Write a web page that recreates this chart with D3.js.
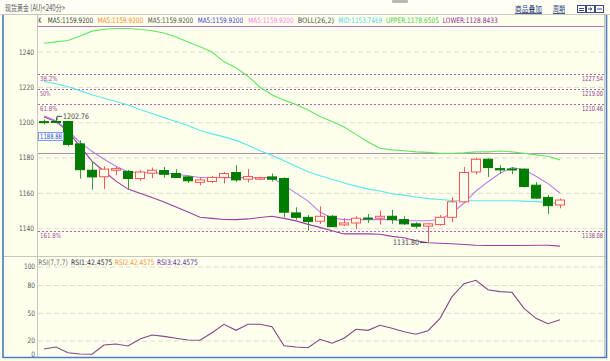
<!DOCTYPE html>
<html>
<head>
<meta charset="utf-8">
<script src="https://cdn.jsdelivr.net/npm/d3@7"></script>
<style>
  body { margin: 0; background: #fff; }
  svg text { font-family: "DejaVu Sans", "Liberation Sans", sans-serif; }
</style>
</head>
<body>
<svg id="chart"></svg>
<script>
// candle values (one per 240-min bar)
const openPx  = [1200.3,1200.4,1200.4,1187.7,1172.8,1169.1,1172.8,1172.1,1168.1,1171.1,1172.6,1170.9,1169.0,1165.9,1166.4,1168.7,1171.5,1167.7,1167.7,1169.0,1168.1,1148.6,1146.1,1143.9,1146.7,1141.8,1142.9,1145.7,1145.6,1146.7,1144.8,1142.4,1141.1,1142.0,1146.1,1154.9,1171.8,1179.0,1173.7,1173.5,1173.4,1164.3,1157.4,1153.1];
const highPx  = [1201.5,1202.76,1200.8,1189.7,1177.9,1175.0,1174.8,1173.0,1172.8,1174.3,1174.6,1173.4,1170.0,1168.6,1169.4,1171.8,1175.6,1173.4,1169.1,1170.9,1168.8,1151.8,1147.4,1152.3,1147.4,1145.6,1146.7,1148.0,1149.9,1150.3,1146.7,1143.3,1142.9,1147.4,1157.4,1174.6,1179.9,1179.5,1175.6,1174.6,1173.9,1166.2,1158.7,1156.8];
const lowPx   = [1198.8,1199.5,1186.3,1168.0,1161.8,1162.1,1170.0,1162.1,1166.8,1168.3,1168.5,1168.5,1165.5,1164.3,1165.5,1165.3,1166.2,1165.9,1167.2,1166.4,1146.1,1144.8,1138.6,1142.4,1140.7,1141.2,1139.5,1142.9,1142.0,1142.4,1141.8,1139.9,1131.8,1141.4,1143.3,1154.2,1170.5,1169.0,1170.9,1170.5,1163.0,1156.5,1148.0,1151.2];
const closePx = [1200.0,1200.1,1187.4,1173.1,1169.0,1173.4,1173.7,1168.1,1171.8,1172.8,1170.5,1168.7,1166.8,1167.3,1168.7,1170.9,1167.3,1169.2,1168.5,1167.7,1149.0,1146.1,1143.7,1146.7,1140.8,1142.9,1145.6,1145.5,1146.7,1144.8,1142.4,1141.1,1142.4,1146.1,1154.9,1171.5,1179.0,1174.3,1173.0,1173.3,1163.6,1157.0,1152.7,1155.9];

const ma5       = [1203.6,1200.8,1195.3,1188.6,1183.5,1179.0,1175.0,1171.9,1171.4,1171.4,1171.1,1170.5,1169.7,1168.7,1168.7,1168.6,1168.6,1168.6,1168.6,1168.6,1164.1,1159.8,1155.3,1149.1,1145.7,1144.8,1144.8,1144.8,1144.8,1144.8,1144.2,1144.2,1144.2,1144.9,1148.6,1154.2,1161.0,1166.3,1171.1,1174.3,1173.1,1169.4,1165.2,1159.92];
const bollUpper = [1244.7,1245.5,1246.3,1248.8,1251.6,1252.7,1253.1,1253.1,1252.7,1251.8,1250.5,1248.3,1245.5,1242.8,1239.8,1234.2,1230.8,1226.0,1219.8,1215.6,1212.5,1210.0,1206.9,1203.2,1200.4,1197.3,1193.1,1188.8,1185.2,1184.3,1183.8,1183.2,1182.9,1182.4,1182.4,1182.6,1183.2,1183.2,1183.7,1183.2,1182.4,1181.5,1180.7,1178.65];
const bollMid   = [1223.1,1221.8,1220.1,1217.9,1215.6,1213.6,1211.7,1209.7,1207.2,1204.9,1202.6,1200.4,1198.1,1195.3,1193.4,1191.7,1189.7,1186.9,1183.8,1181.2,1178.1,1175.0,1171.9,1169.7,1167.7,1165.5,1163.8,1162.1,1161.0,1159.5,1158.7,1157.6,1156.7,1156.2,1155.6,1155.5,1155.5,1155.5,1155.5,1155.5,1155.3,1155.0,1154.6,1153.75];
const bollLower = [1203.0,1200.4,1194.8,1186.3,1177.9,1172.2,1166.6,1162.1,1159.8,1157.3,1154.8,1151.9,1149.1,1146.1,1145.5,1144.9,1144.8,1145.2,1146.0,1146.7,1145.5,1144.1,1142.1,1140.4,1138.5,1136.7,1136.7,1136.7,1136.5,1135.3,1134.5,1132.8,1131.7,1131.4,1131.1,1130.7,1130.3,1130.1,1130.1,1130.1,1130.1,1130.3,1130.3,1129.8];
const rsi1      = [10.8,13.0,6.8,5.4,5.1,15.1,16.2,14.1,21.6,25.9,24.5,22.4,20.5,20.2,28.4,37.5,31.0,37.5,37.5,34.9,14.4,13.0,12.2,21.3,17.0,22.4,32.1,31.0,36.4,33.2,29.5,26.7,30.6,44.0,67.4,81.4,85.1,74.9,72.8,72.1,54.8,44.0,38.2,42.46];

const priceTicks = [1140, 1160, 1180, 1200, 1220, 1240];
const rsiTicks = [0, 20, 50, 80, 100];
const rsiGrid = [20, 50, 80, 100];
const fibLevels = [1227.54, 1219.00, 1210.46, 1138.08];
const fibNames = ["38.2%", "50%", "61.8%", "161.8%"];
const fibBase = 1182.81;

const legendItems = [
  ["K", 38.3, 3.2, "#303030"],
  ["MA5:1159.9200", 47.7, 45.5, "#404040"],
  ["MA5:1159.9200", 97.7, 45.5, "#ff8a1c"],
  ["MA5:1159.9200", 147.7, 45.5, "#505050"],
  ["MA5:1159.9200", 197.7, 45.5, "#3c3cdc"],
  ["MA5:1159.9200", 248.3, 45.5, "#ff7fe6"],
  ["BOLL(26,2)", 297.7, 36.5, "#505050"],
  ["MID:1153.7469", 338.3, 44, "#4fd6e6"],
  ["UPPER:1178.6505", 386, 53, "#4ccc4c"],
  ["LOWER:1128.8433", 442.7, 55, "#8e2c9e"]
];
const rsiLegend = [
  ["RSI(7,7,7)", 38.3, 29.5, "#707070"],
  ["RSI1:42.4575", 71, 41.5, "#303048"],
  ["RSI2:42.4575", 115, 39.5, "#ff9040"],
  ["RSI3:42.4575", 157, 41, "#6030a0"]
];

const W = 610, H = 361;
const left = 38, right = 604;
const svg = d3.select("#chart").attr("width", W).attr("height", H);

const x = d3.scaleBand()
  .domain(d3.range(openPx.length))
  .range([38, 566])
  .paddingInner(0.15)
  .paddingOuter(0.075);
const cx = i => x(i) + x.bandwidth() / 2;

const y = d3.scaleLinear().domain([1140, 1240]).range([228.1, 51.6]);
const yr = d3.scaleLinear().domain([0, 100]).range([359, 266.5]);

// squeeze text horizontally into the width it has in the screenshot
function squeeze(sel, w) {
  sel.each(function () {
    const w0 = this.getComputedTextLength();
    const s = w0 > 0 ? w / w0 : 1;
    const tx = +this.getAttribute("x") || 0;
    const ty = +this.getAttribute("y") || 0;
    this.setAttribute("x", 0);
    this.setAttribute("y", 0);
    this.setAttribute("transform", `translate(${tx},${ty}) scale(${s},1)`);
  });
}

// window chrome
svg.append("rect").attr("width", W).attr("height", H).attr("fill", "#ffffee");
svg.append("rect").attr("width", W).attr("height", 14.5).attr("fill", "#fefef5");
svg.append("line").attr("x1", 0).attr("x2", W).attr("y1", 14.5).attr("y2", 14.5).attr("stroke", "#c9c9bb");
svg.append("rect").attr("x", 392).attr("y", 0).attr("width", 16).attr("height", 3).attr("rx", 1).attr("fill", "#b8b8b0");

svg.append("text").attr("x", 5).attr("y", 11)
  .style("font-family", "'Noto Sans CJK SC', sans-serif")
  .attr("font-size", 8.5).attr("fill", "#555")
  .text("现货黄金 (AU)<240分>")
  .call(squeeze, 60);

svg.append("text").attr("x", 515).attr("y", 12)
  .style("font-family", "'Noto Sans CJK SC', sans-serif")
  .attr("font-size", 8.5).attr("fill", "#2a3a7a")
  .attr("text-decoration", "underline")
  .text("商品叠加").call(squeeze, 27);
svg.append("text").attr("x", 553).attr("y", 12)
  .style("font-family", "'Noto Sans CJK SC', sans-serif")
  .attr("font-size", 8.5).attr("fill", "#2a3a7a")
  .attr("text-decoration", "underline")
  .text("周期").call(squeeze, 12);

const btn = svg.append("g").attr("fill", "none").attr("stroke", "#3a4a8a");
[577, 586, 595].forEach((bx, k) => {
  btn.append("rect").attr("x", bx + 0.5).attr("y", 5.5).attr("width", 8).attr("height", 7);
  if (k === 0) btn.append("path").attr("d", `M${bx + 2},8.5h5M${bx + 2},10.5h5`);
  if (k === 1) btn.append("path").attr("d", `M${bx + 2},9h4M${bx + 4},7.5l2,1.5l-2,1.5`);
  if (k === 2) btn.append("path").attr("d", `M${bx + 2},9h5`);
});

// panel borders
svg.append("line").attr("x1", left - 0.5).attr("x2", left - 0.5).attr("y1", 15).attr("y2", 357).attr("stroke", "#c8c8b8");
svg.append("line").attr("x1", right + 0.5).attr("x2", right + 0.5).attr("y1", 15).attr("y2", 357).attr("stroke", "#c8c8b8");
svg.append("line").attr("x1", left - 0.5).attr("x2", right).attr("y1", 26.5).attr("y2", 26.5).attr("stroke", "#b77bb7");
svg.append("line").attr("x1", 3).attr("x2", 606).attr("y1", 256.5).attr("y2", 256.5).attr("stroke", "#c8c8b8");

// price grid and axis
const grid = svg.append("g").attr("transform", `translate(${left},0)`)
  .call(d3.axisRight(y).tickValues(priceTicks).tickSize(right - left).tickFormat(""));
grid.select(".domain").remove();
grid.selectAll("line").attr("stroke", "#dcdccb").attr("stroke-dasharray", "5,3");

const yAxis = svg.append("g").attr("transform", "translate(34,0)")
  .call(d3.axisLeft(y).tickValues(priceTicks).tickSize(0).tickPadding(0).tickFormat(d3.format("d")));
yAxis.select(".domain").remove();
yAxis.selectAll("text").attr("font-size", 7.5).attr("fill", "#555").call(squeeze, 15);

// fibonacci levels
const fib = svg.append("g");
fib.selectAll("line.fib").data(fibLevels).join("line")
  .attr("class", "fib")
  .attr("x1", left).attr("x2", right)
  .attr("y1", d => Math.round(y(d)) + 0.5).attr("y2", d => Math.round(y(d)) + 0.5)
  .attr("stroke", "#b45cb4").attr("stroke-dasharray", "2,2");
fib.append("line")
  .attr("x1", left).attr("x2", right)
  .attr("y1", Math.round(y(fibBase)) + 0.5).attr("y2", Math.round(y(fibBase)) + 0.5)
  .attr("stroke", "#b88aae");
fib.selectAll("text.fname").data(fibLevels).join("text")
  .attr("class", "fname")
  .attr("x", 40).attr("y", d => y(d) + 7)
  .attr("font-size", 7).attr("fill", "#a04aa0")
  .text((d, i) => fibNames[i])
  .each(function (d, i) { d3.select(this).call(squeeze, fibNames[i].length * 3.5); });
fib.selectAll("text.fval").data(fibLevels).join("text")
  .attr("class", "fval")
  .attr("x", 603).attr("y", d => y(d) + 7)
  .attr("text-anchor", "end")
  .attr("font-size", 7).attr("fill", "#8a3a8a")
  .text(d => d.toFixed(2))
  .call(squeeze, 21);

// legend
svg.selectAll("text.leg").data(legendItems).join("text")
  .attr("class", "leg")
  .attr("x", d => d[1]).attr("y", 23)
  .attr("font-size", 7.5).attr("fill", d => d[3])
  .text(d => d[0])
  .each(function (d) { d3.select(this).call(squeeze, d[2]); });

// main plot
const plot = svg.append("g");
svg.append("clipPath").attr("id", "mainClip")
  .append("rect").attr("x", left).attr("y", 27).attr("width", right - left).attr("height", 229);
plot.attr("clip-path", "url(#mainClip)");

const line = d3.line().x((d, i) => cx(i)).y(d => y(d));
[[bollUpper, "#5ee85e"], [bollMid, "#5ae6ee"], [bollLower, "#9b3fa0"], [ma5, "#b77cf0"]].forEach(([arr, col]) => {
  plot.append("path").datum(arr).attr("d", line)
    .attr("fill", "none").attr("stroke", col).attr("stroke-width", 1.1);
});

const idx = d3.range(openPx.length);
const isUp = i => closePx[i] >= openPx[i];
const upCol = "#ff5252", dnCol = "#007c00";

plot.selectAll("line.wick").data(idx).join("line")
  .attr("class", "wick")
  .attr("x1", i => Math.round(cx(i)) + 0.5).attr("x2", i => Math.round(cx(i)) + 0.5)
  .attr("y1", i => y(highPx[i])).attr("y2", i => y(lowPx[i]))
  .attr("stroke", i => isUp(i) ? upCol : "#3a9a3a");

plot.selectAll("rect.body").data(idx).join("rect")
  .attr("class", "body")
  .attr("x", i => Math.round(x(i)) + 0.5)
  .attr("width", Math.round(x.bandwidth()) - 1)
  .attr("y", i => y(Math.max(openPx[i], closePx[i])))
  .attr("height", i => Math.max(1, Math.abs(y(openPx[i]) - y(closePx[i]))))
  .attr("fill", i => isUp(i) ? "#ffffee" : dnCol)
  .attr("stroke", i => isUp(i) ? upCol : dnCol)
  .attr("stroke-width", 1);

// high / low marks
const hiI = d3.maxIndex(highPx), loI = d3.minIndex(lowPx);
const hx = cx(hiI), hy = y(highPx[hiI]);
svg.append("path").attr("d", `M${hx + 1},${hy + 3}V${hy - 1}H${hx + 6}`)
  .attr("fill", "none").attr("stroke", "#444");
svg.append("text").attr("x", hx + 7).attr("y", hy + 2)
  .attr("font-size", 7.5).attr("fill", "#444")
  .text(highPx[hiI].toFixed(2)).call(squeeze, 26);
const lx = cx(loI), ly = y(lowPx[loI]);
svg.append("line").attr("x1", lx - 8).attr("x2", lx - 1).attr("y1", ly).attr("y2", ly).attr("stroke", "#444");
svg.append("text").attr("x", lx - 9).attr("y", ly + 2.5)
  .attr("text-anchor", "end")
  .attr("font-size", 7.5).attr("fill", "#444")
  .text(lowPx[loI].toFixed(2)).call(squeeze, 26);

// price tag at the left edge
svg.append("rect").attr("x", 38.5).attr("y", 132.5).attr("width", 25).attr("height", 8)
  .attr("fill", "#fff").attr("stroke", "#7a9cff");
svg.append("text").attr("x", 40).attr("y", 139.2)
  .attr("font-size", 7.5).attr("fill", "#3050d0")
  .text("1188.88").call(squeeze, 22);

// RSI panel
const rgrid = svg.append("g").attr("transform", `translate(${left},0)`)
  .call(d3.axisRight(yr).tickValues(rsiGrid).tickSize(right - left).tickFormat(""));
rgrid.select(".domain").remove();
rgrid.selectAll("line").attr("stroke", "#dcdccb").attr("stroke-dasharray", "5,3");

const rAxis = svg.append("g").attr("transform", "translate(35,0)")
  .call(d3.axisLeft(yr).tickValues(rsiTicks).tickSize(0).tickPadding(0));
rAxis.select(".domain").remove();
rAxis.selectAll("text").attr("font-size", 7.5).attr("fill", "#555")
  .each(function (d) { d3.select(this).call(squeeze, String(d).length * 3.7); });
rAxis.selectAll(".tick").filter(d => d === 0).attr("transform", "translate(0,354.5)");

svg.selectAll("text.rleg").data(rsiLegend).join("text")
  .attr("class", "rleg")
  .attr("x", d => d[1]).attr("y", 265)
  .attr("font-size", 7.5).attr("fill", d => d[3])
  .text(d => d[0])
  .each(function (d) { d3.select(this).call(squeeze, d[2]); });

svg.append("path").datum(rsi1)
  .attr("d", d3.line().x((d, i) => cx(i)).y(d => yr(d)))
  .attr("fill", "none").attr("stroke", "#84468a").attr("stroke-width", 1.1);

// outer blue frame
const frame = svg.append("g").attr("stroke", "#4a7cc6").attr("stroke-width", 1.6).attr("fill", "none");
frame.append("line").attr("x1", 3).attr("x2", 3).attr("y1", 15).attr("y2", 358);
frame.append("line").attr("x1", 606.5).attr("x2", 606.5).attr("y1", 15).attr("y2", 358);
frame.append("line").attr("x1", 3).attr("x2", 607).attr("y1", 357.5).attr("y2", 357.5);
</script>
</body>
</html>
